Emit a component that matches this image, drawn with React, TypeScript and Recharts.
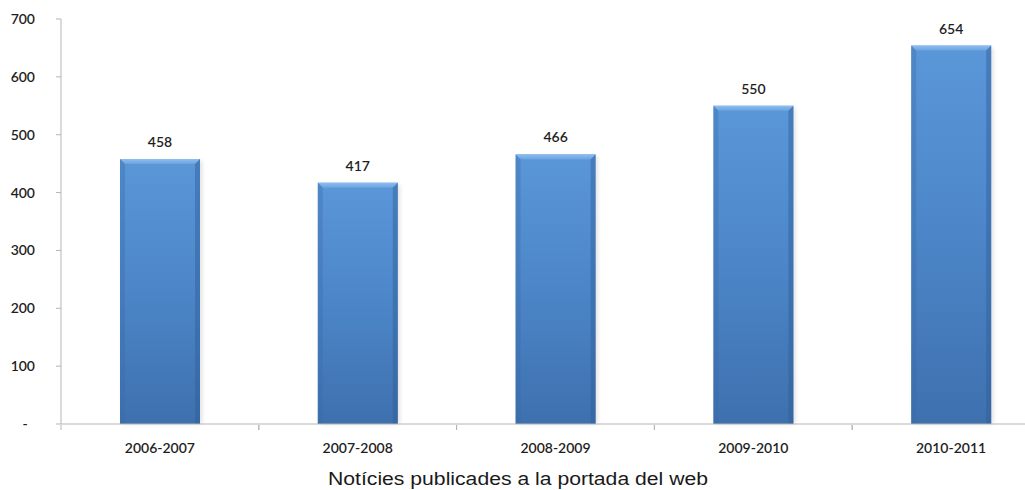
import React from "react";
import { BarChart, Bar, XAxis, YAxis, LabelList } from "recharts";

const categories = ["2006-2007", "2007-2008", "2008-2009", "2009-2010", "2010-2011"];
const values = [458, 417, 466, 550, 654];
const yTicks = [0, 100, 200, 300, 400, 500, 600, 700];
const title = "Notícies publicades a la portada del web";

const data = categories.map((c, i) => ({ name: c, value: values[i] }));

const CHART_W = 1050;
const CHART_H = 490;
const Y_AXIS_W = 61;
const MARGIN = { top: 19, right: 0, left: 0, bottom: 36 };
const BAND = (CHART_W - MARGIN.left - MARGIN.right - Y_AXIS_W) / categories.length;
const FONT = "Lato, 'Open Sans', sans-serif";
const TEXT = "#1e1e1e";
const AXIS = "#b5b5b5";
const FW = 600;

const XTick = (props: any) => {
  const { x, y, payload } = props;
  const left = x - BAND / 2;
  return (
    <g>
      <line x1={left} x2={left} y1={y - 1} y2={y + 4} stroke={AXIS} strokeWidth={1} />
      <line x1={left + BAND} x2={left + BAND} y1={y - 1} y2={y + 4} stroke={AXIS} strokeWidth={1} />
      <text x={x} y={y + 17} dy="0.71em" textAnchor="middle" fill={TEXT} fontSize={14} fontFamily={FONT} fontWeight={FW}>
        {payload.value}
      </text>
    </g>
  );
};

const YTick = (props: any) => {
  const { x, y, payload } = props;
  const isZero = payload.value === 0;
  return (
    <text
      x={isZero ? x - 10 : x}
      y={y}
      dy="0.36em"
      textAnchor={isZero ? "middle" : "end"}
      fill={TEXT}
      fontSize={14}
      fontFamily={FONT}
      fontWeight={FW}
    >
      {isZero ? "-" : payload.value}
    </text>
  );
};

const BevelBar = (props: any) => {
  const { x, y, width, height } = props;
  if (!height || height <= 0) return null;
  const b = 5;
  return (
    <g>
      <rect x={x + 2} y={y + 2} width={width} height={height - 2} fill="#000" opacity={0.12} filter="url(#barShadow)" />
      <rect x={x} y={y} width={width} height={height} fill="url(#barGrad)" />
      <polygon
        points={`${x},${y} ${x + width},${y} ${x + width - b},${y + b} ${x + b},${y + b}`}
        fill="url(#topBevel)"
      />
      <polygon
        points={`${x},${y} ${x + b},${y + b} ${x + b},${y + height} ${x},${y + height}`}
        fill="#3a6aa6"
        opacity={0.35}
      />
      <polygon
        points={`${x + width},${y} ${x + width - b},${y + b} ${x + width - b},${y + height} ${x + width},${y + height}`}
        fill="#2f5d96"
        opacity={0.45}
      />
    </g>
  );
};

export default function App() {
  return (
    <div style={{ position: "absolute", left: 0, top: 0, width: 1025, height: 490, overflow: "hidden", background: "#fff" }}>
      <BarChart width={CHART_W} height={CHART_H} data={data} margin={MARGIN}>
        <defs>
          <linearGradient id="barGrad" x1="0" y1="0" x2="0" y2="1">
            <stop offset="0%" stopColor="#5a97d8" />
            <stop offset="50%" stopColor="#4c86c8" />
            <stop offset="100%" stopColor="#3e70ae" />
          </linearGradient>
          <linearGradient id="topBevel" x1="0" y1="0" x2="0" y2="1">
            <stop offset="0%" stopColor="#8fbdf0" />
            <stop offset="100%" stopColor="#6aa3e0" />
          </linearGradient>
          <filter id="barShadow" x="-20%" y="-20%" width="140%" height="140%">
            <feGaussianBlur stdDeviation="2" />
          </filter>
        </defs>
        <XAxis
          dataKey="name"
          stroke={AXIS}
          tickLine={false}
          tickSize={0}
          tick={<XTick />}
          interval={0}
        />
        <YAxis
          width={Y_AXIS_W}
          domain={[0, 700]}
          ticks={yTicks}
          stroke={AXIS}
          tickSize={5}
          tickMargin={21}
          tick={<YTick />}
          interval={0}
        />
        <Bar dataKey="value" barSize={80} isAnimationActive={false} shape={<BevelBar />}>
          <LabelList dataKey="value" position="top" offset={12} fill={TEXT} fontSize={14} fontFamily={FONT} fontWeight={FW} />
        </Bar>
      </BarChart>
      <svg width={1025} height={490} style={{ position: "absolute", left: 0, top: 0, pointerEvents: "none" }}>
        <text
          x={518}
          y={485}
          textAnchor="middle"
          fontFamily="'Liberation Sans', Arial, sans-serif"
          fontSize={17.5}
          fill="#1a1a1a"
          textLength={380}
          lengthAdjust="spacingAndGlyphs"
        >
          {title}
        </text>
      </svg>
    </div>
  );
}
